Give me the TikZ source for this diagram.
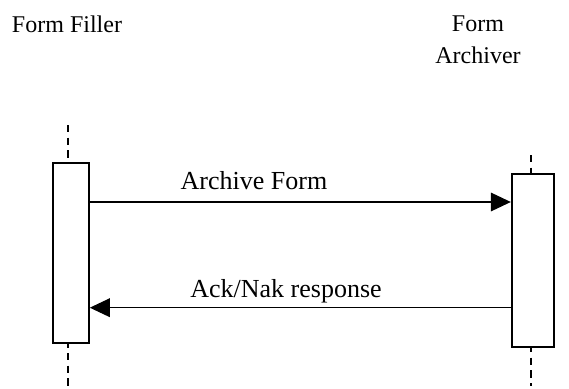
\documentclass[tikz,border=0pt]{standalone}
\usepackage{fontspec}
\setmainfont{Liberation Serif}
\usetikzlibrary{arrows.meta}
\begin{document}
\begin{tikzpicture}[x=0.75pt,y=-0.75pt]
	\tikzstyle{fleche}=[-{Triangle[length=15pt,width=14pt]},line width=0.9pt]
	\tikzstyle{activite}=[draw,line width=1.3pt,fill=white,inner sep=0pt]
	\tikzstyle{vie}=[line width=1.5pt,dash pattern=on 5.5pt off 4pt]
	\tikzstyle{acteur}=[font=\fontsize{18}{23.3}\selectfont,align=center,anchor=base,inner sep=0pt]
	\tikzstyle{message}=[font=\fontsize{19.5}{23}\selectfont,anchor=base,inner sep=0pt]
	\useasboundingbox (0,0) rectangle (569,389);
	\node[acteur] (tFF) at (67,32) {Form Filler};
	\node[acteur] (tFA) at (478,63) {Form\\Archiver};
	\coordinate (hFF) at (67.7,125);\coordinate (bFF) at (67.7,389);
	\coordinate (hFA) at (531,155);\coordinate (bFA) at (531,386);
	\draw[vie] (hFF)--(bFF);
	\draw[vie] (hFA)--(bFA);
	\node[activite,minimum width=36.3*0.75pt,minimum height=179.4*0.75pt] (FF) at (70.8,253) {};
	\node[activite,minimum width=42.6*0.75pt,minimum height=172.4*0.75pt] (FA) at (533,260.5) {};
	\coordinate (m1) at (0,202);\coordinate (m2) at (0,307.7);
	\draw[fleche] (FF.east |- m1)--(FA.west |- m1);
	\draw[fleche] (FA.west |- m2)--(FF.east |- m2);
	\node[message] (lm1) at (254,189) {Archive Form};
	\node[message] (lm2) at (286,297) {Ack/Nak response};
\end{tikzpicture}
\end{document}
